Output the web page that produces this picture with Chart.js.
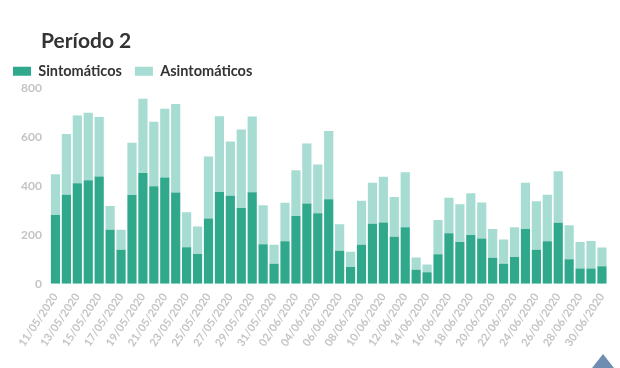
<!DOCTYPE html>
<html>
<head>
<meta charset="utf-8">
<script src="https://cdn.jsdelivr.net/npm/chart.js@4/dist/chart.umd.min.js"></script>
<style>
  body { margin: 0; background: #fff; }
  #wrap { position: relative; width: 620px; height: 368px; }
  #title { position: absolute; left: 41px; top: 27px; font: bold 21px Lato, sans-serif; color: #333; }
</style>
</head>
<body>
<div id="wrap">
  <div id="title">Período 2</div>
  <canvas id="chart" width="620" height="368"></canvas>
</div>
<script>
var dates = [
  "11/05/2020","12/05/2020","13/05/2020","14/05/2020","15/05/2020","16/05/2020","17/05/2020",
  "18/05/2020","19/05/2020","20/05/2020","21/05/2020","22/05/2020","23/05/2020","24/05/2020",
  "25/05/2020","26/05/2020","27/05/2020","28/05/2020","29/05/2020","30/05/2020","31/05/2020",
  "01/06/2020","02/06/2020","03/06/2020","04/06/2020","05/06/2020","06/06/2020","07/06/2020",
  "08/06/2020","09/06/2020","10/06/2020","11/06/2020","12/06/2020","13/06/2020","14/06/2020",
  "15/06/2020","16/06/2020","17/06/2020","18/06/2020","19/06/2020","20/06/2020","21/06/2020",
  "22/06/2020","23/06/2020","24/06/2020","25/06/2020","26/06/2020","27/06/2020","28/06/2020",
  "29/06/2020","30/06/2020"
];

var sintomaticos = [
  282, 365, 412, 424, 440, 221, 139, 364, 454, 400, 435, 374, 150, 122,
  268, 376, 361, 311, 375, 162, 82, 174, 278, 329, 289, 346, 135, 69,
  160, 246, 251, 193, 232, 58, 47, 121, 207, 171, 200, 186, 107, 82,
  110, 224, 139, 174, 250, 101, 63, 63, 72
];

var totales = [
  449, 614, 689, 701, 683, 319, 221, 578, 758, 664, 717, 736, 293, 235,
  521, 686, 583, 632, 685, 322, 160, 332, 465, 575, 489, 626, 244, 131,
  340, 414, 439, 356, 457, 108, 79, 261, 353, 326, 371, 333, 225, 181,
  232, 414, 338, 365, 461, 240, 171, 175, 149
];

var asintomaticos = totales.map(function (t, i) { return t - sintomaticos[i]; });

var yTicks = [0, 200, 400, 600, 800];

// little blue corner marker seen in the original screenshot
var cornerMark = {
  id: "cornerMark",
  afterDraw: function (chart) {
    var c = chart.ctx;
    c.save();
    c.fillStyle = "#6f8db3";
    c.beginPath();
    c.moveTo(592, 368);
    c.lineTo(603, 354);
    c.lineTo(614, 368);
    c.closePath();
    c.fill();
    c.restore();
  },
};

var ctx = document.getElementById("chart").getContext("2d");
var myChart = new Chart(ctx, {
  type: "bar",
  data: {
    labels: dates,
    datasets: [
      {
        label: "Sintomáticos",
        data: sintomaticos,
        backgroundColor: "#2fa88c",
        barPercentage: 0.84,
        categoryPercentage: 1,
      },
      {
        label: "Asintomáticos",
        data: asintomaticos,
        backgroundColor: "#a6dcd1",
        barPercentage: 0.84,
        categoryPercentage: 1,
      },
    ],
  },
  plugins: [cornerMark],
  options: {
    responsive: false,
    animation: { duration: 0 },
    layout: { padding: { top: 51, left: 0, right: 10, bottom: 12 } },
    plugins: {
      legend: {
        display: true,
        align: "start",
        labels: {
          boxWidth: 18,
          boxHeight: 9,
          padding: 13,
          color: "#333",
          font: { family: "Lato", size: 14.5, weight: "bold" },
        },
      },
      tooltip: { enabled: false },
    },
    scales: {
      x: {
        stacked: true,
        grid: { display: false, drawTicks: false },
        border: { display: false },
        ticks: {
          autoSkip: false,
          maxRotation: 56,
          minRotation: 56,
          padding: 7,
          color: "#c4c4c4",
          font: { family: "Lato", size: 11, weight: "bold" },
          callback: function (val, i) { return i % 2 === 0 ? dates[i] : ""; },
        },
      },
      y: {
        stacked: true,
        min: 0,
        max: 800,
        grid: { display: false, drawTicks: false },
        border: { display: false },
        afterBuildTicks: function (axis) {
          axis.ticks = yTicks.map(function (v) { return { value: v }; });
        },
        afterFit: function (axis) {
          axis.width = 50;
        },
        ticks: {
          color: "#c4c4c4",
          padding: 8,
          font: { family: "Lato", size: 12, weight: "bold" },
        },
      },
    },
  },
});
</script>
</body>
</html>
